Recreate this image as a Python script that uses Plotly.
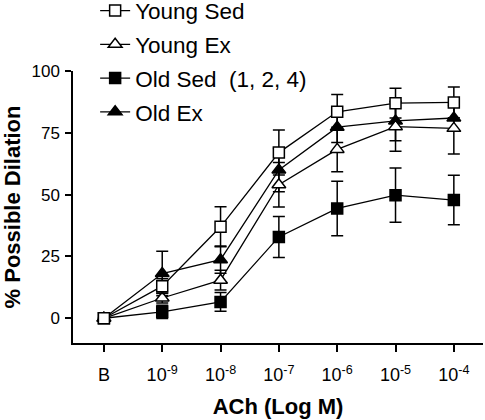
import plotly.graph_objects as go

x_labels = ["B", "10<sup>-9</sup>", "10<sup>-8</sup>", "10<sup>-7</sup>",
            "10<sup>-6</sup>", "10<sup>-5</sup>", "10<sup>-4</sup>"]

young_sed = [0, 13, 37, 67, 83.5, 87, 87.3]
young_sed_err = [0, 3, 8.1, 9.1, 7, 6, 6.2]
young_ex = [0, 8.2, 15.4, 54, 68.3, 77.5, 76.8]
young_ex_err = [0, 2, 4, 9, 9, 10, 10.4]
old_sed = [0, 2.6, 6.6, 32.9, 44.4, 49.8, 47.8]
old_sed_err = [0, 2.7, 3.8, 8.3, 11, 11, 10]
old_ex = [0, 18.1, 23.7, 60, 77.3, 79.8, 81]
old_ex_err = [0, 9, 5.5, 8.8, 6.2, 8, 5]

FONT = "Liberation Sans, Arial, sans-serif"

# drawn in this order (Young Sed on top); legend rank gives display order
series = [
    ("Old Ex", old_ex, old_ex_err, "triangle-up", "black", 12, 4),
    ("Old Sed\u00a0\u00a0(1, 2, 4)", old_sed, old_sed_err, "square", "black", 11, 3),
    ("Young Ex", young_ex, young_ex_err, "triangle-up", "white", 12, 2),
    ("Young Sed", young_sed, young_sed_err, "square", "white", 11, 1),
]

fig = go.Figure()
for i, (name, vals, errs, sym, fill, size, rank) in enumerate(series):
    fig.add_trace(go.Scatter(
        x=x_labels, y=vals, name=name, mode="lines+markers",
        legendgroup=f"g{i}", legendrank=rank,
        line=dict(color="black", width=1.3),
        marker=dict(symbol=sym, size=size, color=fill,
                    line=dict(color="black", width=1.5)),
        error_y=dict(type="data", array=errs, visible=True,
                     color="black", thickness=1.5, width=6),
    ))

fig.update_layout(
    width=485, height=420,
    margin=dict(l=73, r=2, t=71, b=77, autoexpand=False),
    plot_bgcolor="white", paper_bgcolor="white",
    font=dict(family=FONT, color="black"),
    showlegend=True,
    legend=dict(traceorder="grouped", tracegroupgap=1.5,
                x=0.054, xanchor="left",
                y=1.3, yanchor="top", bgcolor="rgba(0,0,0,0)",
                font=dict(size=22.5, family=FONT), borderwidth=0),
    xaxis=dict(
        type="category", range=[-0.53, 6.5], automargin=False,
        showline=True, linecolor="black", linewidth=1.5,
        ticks="outside", ticklen=7, tickwidth=1.5, tickcolor="black",
        showgrid=False, zeroline=False, ticklabelstandoff=8,
        tickfont=dict(size=18, family=FONT),
        title=dict(text="ACh (Log M)", standoff=14,
                   font=dict(size=22, family=FONT, weight="bold")),
    ),
    yaxis=dict(
        range=[-10, 100], tickvals=[0, 25, 50, 75, 100], automargin=False,
        showline=True, linecolor="black", linewidth=1.5,
        ticks="outside", ticklen=6, tickwidth=1.5, tickcolor="black",
        showgrid=False, zeroline=False, ticklabelstandoff=2,
        tickfont=dict(size=17, family=FONT),
        title=dict(text="% Possible Dilation", standoff=20,
                   font=dict(size=22, family=FONT, weight="bold")),
    ),
)

fig.write_html("out.html", config={"displayModeBar": False},
               post_script="document.body.style.margin='0px';")
